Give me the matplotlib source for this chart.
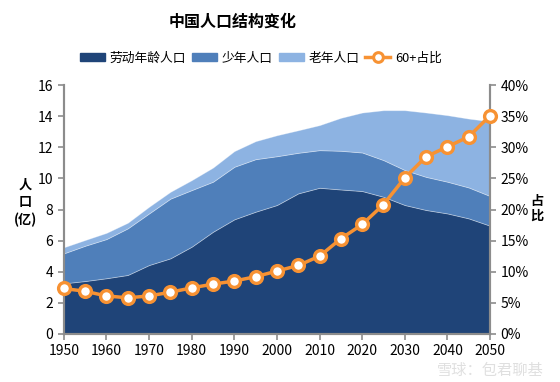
import matplotlib.pyplot as plt
import numpy as np
from matplotlib.patches import Patch
from matplotlib.lines import Line2D

plt.rcParams['font.family'] = ['Noto Sans CJK SC', 'DejaVu Sans']

annees = list(range(1950, 2051, 5))
# population en milliards (亿)
travail = [3.25, 3.40, 3.58, 3.79, 4.43, 4.86, 5.61, 6.57, 7.37, 7.86, 8.29,
           9.04, 9.40, 9.29, 9.19, 8.82, 8.29, 7.97, 7.75, 7.43, 6.96]
jeunes = [1.93, 2.27, 2.52, 3.00, 3.32, 3.84, 3.64, 3.22, 3.38, 3.38, 3.14,
          2.61, 2.42, 2.49, 2.48, 2.36, 2.25, 2.13, 2.04, 1.99, 1.91]
vieux = [0.39, 0.37, 0.40, 0.36, 0.43, 0.44, 0.64, 0.91, 1.01, 1.16, 1.35,
         1.45, 1.61, 2.12, 2.57, 3.21, 3.85, 4.14, 4.28, 4.43, 4.81]
part_60 = [7.3, 6.85, 6.1, 5.8, 6.1, 6.7, 7.4, 8.0, 8.5, 9.2, 10.1,
           11.0, 12.5, 15.3, 17.6, 20.8, 25.1, 28.5, 30.1, 31.7, 35.1]

labels = ['劳动年龄人口', '少年人口', '老年人口', '60+占比']
couleurs = ['#1f4478', '#4f7fba', '#8db3e2']
orange = '#f79233'
gris = '#8c8c8c'

fig = plt.figure(figsize=(5.6, 3.82), dpi=100)
ax = fig.add_axes([0.114, 0.126, 0.761, 0.651])

ax.stackplot(annees, travail, jeunes, vieux, colors=couleurs,
             edgecolor=(1, 1, 1, 0.35), linewidth=0.6)
ax.set_xlim(1950, 2050)
ax.set_ylim(0, 16)
ax.set_xticks(range(1950, 2051, 10))
ax.set_yticks(range(0, 17, 2))

ax2 = ax.twinx()
ax2.plot(annees, part_60, color=orange, linewidth=2.5, marker='o', markersize=8.5,
         markerfacecolor='white', markeredgecolor=orange, markeredgewidth=2.4,
         clip_on=False, zorder=5)
ax2.set_ylim(0, 40)
ax2.set_yticks(range(0, 41, 5))
ax2.set_yticklabels([f'{v}%' for v in range(0, 41, 5)])

for a in (ax, ax2):
    a.spines['top'].set_visible(False)
    for s in ('left', 'right', 'bottom'):
        a.spines[s].set_color(gris)
        a.spines[s].set_linewidth(1.5)
    a.tick_params(colors=gris, labelcolor='black', labelsize=10, length=4, width=1.2)

fig.text(0.416, 0.942, '中国人口结构变化', fontsize=11.5, fontweight='bold', ha='center', va='center')
fig.text(0.045, 0.47, '人\n口\n(亿)', fontsize=9.5, fontweight='bold', ha='center', va='center',
         linespacing=1.3)
fig.text(0.958, 0.455, '占\n比', fontsize=9.5, fontweight='bold', ha='center', va='center',
         linespacing=1.1)

handles = [Patch(color=c) for c in couleurs]
handles.append(Line2D([], [], color=orange, linewidth=2.5, marker='o', markersize=7,
                      markerfacecolor='white', markeredgecolor=orange, markeredgewidth=2.2))
fig.legend(handles, labels, loc='center', bbox_to_anchor=(0.466, 0.848), ncol=4,
           frameon=False, fontsize=9.2, handlelength=1.95, handleheight=0.6,
           handletextpad=0.4, columnspacing=0.45)

fig.text(0.97, 0.03, '雪球：包君聊基', fontsize=11, color='#d8d8d8', ha='right', va='center',
         alpha=0.8)

fig.savefig('out.png', dpi=100)
